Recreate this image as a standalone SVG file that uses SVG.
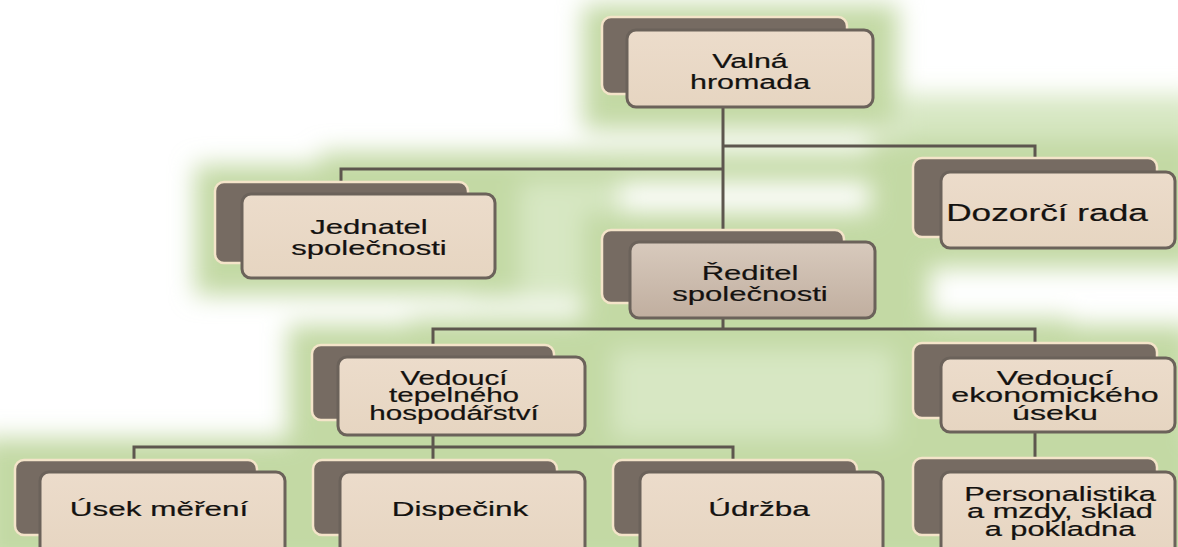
<svg xmlns="http://www.w3.org/2000/svg" width="1178" height="547" viewBox="0 0 1178 547">
<style>
.back{fill:#766b62;stroke:#f4e4c9;stroke-width:2.5}
.front{fill:url(#fg);stroke:#6b625a;stroke-width:3}
.frontd{fill:url(#fgd);stroke:#6b625a;stroke-width:3}
.t{font-family:"Liberation Sans",Arial,sans-serif;font-size:21px;fill:#141210;stroke:#141210;stroke-width:0.2;text-anchor:middle}
.s{font-size:19.5px}
.c{fill:none;stroke:#5d564e;stroke-width:3}
.g{fill:#c3d9a4}
.gl{fill:#d7e7c3}
</style>
<defs>
<linearGradient id="fg" x1="0" y1="0" x2="0" y2="1"><stop offset="0" stop-color="#ecdccb"/><stop offset="1" stop-color="#e6d5c1"/></linearGradient>
<linearGradient id="fgd" x1="0" y1="0" x2="0" y2="1"><stop offset="0" stop-color="#d8cabd"/><stop offset="1" stop-color="#c0ae9f"/></linearGradient>
<filter id="blur" x="-20%" y="-20%" width="140%" height="140%"><feGaussianBlur stdDeviation="12"/></filter>
</defs>
<rect width="1178" height="547" fill="#ffffff"/>
<g id="glow" filter="url(#blur)">
<rect class="gl" x="900" y="95" width="300" height="55"/>
<rect class="gl" x="470" y="170" width="150" height="130"/>
<rect class="gl" x="590" y="320" width="330" height="140"/>
<rect class="g" x="583" y="5" width="315" height="125"/>
<rect class="g" x="320" y="152" width="740" height="30"/>
<rect class="g" x="195" y="165" width="325" height="130"/>
<rect class="g" x="870" y="138" width="330" height="130"/>
<rect class="g" x="870" y="250" width="60" height="100"/>
<rect class="g" x="583" y="212" width="318" height="130"/>
<rect class="g" x="410" y="318" width="660" height="32"/>
<rect class="g" x="288" y="325" width="325" height="130"/>
<rect class="g" x="893" y="325" width="300" height="130"/>
<rect class="g" x="-20" y="438" width="1220" height="130"/>
</g>
<g id="connectors">
<path class="c" d="M723 107V230"/>
<path class="c" d="M723 169H341V183"/>
<path class="c" d="M723 146H1035V159"/>
<path class="c" d="M723 318V329M433 345V329H1035V344"/>
<path class="c" d="M433 435V461M134 461V447H733V461"/>
<path class="c" d="M1035 432V459"/>
</g>
<g id="n-valna">
<rect class="back" x="602" y="17" width="245" height="77" rx="9"/>
<rect class="front" x="627" y="30" width="246" height="77" rx="9"/>
<text class="t" transform="translate(750 0) scale(1.45 1)"><tspan x="0" y="68">Valná</tspan><tspan x="0" y="89">hromada</tspan></text>
</g>
<g id="n-jednatel">
<rect class="back" x="215" y="182" width="253" height="81" rx="9"/>
<rect class="front" x="242" y="194" width="253" height="84" rx="9"/>
<text class="t" transform="translate(369 0) scale(1.48 1)"><tspan x="0" y="234">Jednatel</tspan><tspan x="0" y="255">společnosti</tspan></text>
</g>
<g id="n-dozorci">
<rect class="back" x="913" y="158" width="244" height="79" rx="9"/>
<rect class="front" x="941" y="172" width="234" height="76" rx="9"/>
<text class="t" style="font-size:23.5px" transform="translate(1047 0) scale(1.5 1)"><tspan x="0" y="221">Dozorčí rada</tspan></text>
</g>
<g id="n-reditel">
<rect class="back" x="602" y="230" width="242" height="73" rx="9"/>
<rect class="frontd" x="630" y="242" width="245" height="76" rx="9"/>
<text class="t" transform="translate(750 0) scale(1.48 1)"><tspan x="0" y="280">Ředitel</tspan><tspan x="0" y="301">společnosti</tspan></text>
</g>
<g id="n-vedouci-tep">
<rect class="back" x="312" y="345" width="242" height="75" rx="9"/>
<rect class="front" x="338" y="357" width="247" height="78" rx="9"/>
<text class="t s" transform="translate(454 0) scale(1.52 1)"><tspan x="0" y="385">Vedoucí</tspan><tspan x="0" y="402.5">tepelného</tspan><tspan x="0" y="420">hospodářství</tspan></text>
</g>
<g id="n-vedouci-ekon">
<rect class="back" x="913" y="343" width="244" height="75" rx="9"/>
<rect class="front" x="941" y="358" width="234" height="74" rx="9"/>
<text class="t s" transform="translate(1055 0) scale(1.65 1)"><tspan x="0" y="385">Vedoucí</tspan><tspan x="0" y="402.5">ekonomického</tspan><tspan x="0" y="420">úseku</tspan></text>
</g>
<g id="n-usek">
<rect class="back" x="15" y="460" width="242" height="75" rx="9"/>
<rect class="front" x="40" y="472" width="245" height="85" rx="9"/>
<text class="t" transform="translate(159 0) scale(1.5 1)"><tspan x="0" y="516">Úsek měření</tspan></text>
</g>
<g id="n-dispecink">
<rect class="back" x="313" y="460" width="244" height="75" rx="9"/>
<rect class="front" x="340" y="472" width="245" height="85" rx="9"/>
<text class="t" transform="translate(460 0) scale(1.5 1)"><tspan x="0" y="516">Dispečink</tspan></text>
</g>
<g id="n-udrzba">
<rect class="back" x="613" y="460" width="244" height="75" rx="9"/>
<rect class="front" x="640" y="472" width="243" height="85" rx="9"/>
<text class="t" transform="translate(759 0) scale(1.5 1)"><tspan x="0" y="516">Údržba</tspan></text>
</g>
<g id="n-personalistika">
<rect class="back" x="913" y="458" width="244" height="77" rx="9"/>
<rect class="front" x="941" y="472" width="234" height="85" rx="9"/>
<text class="t s" transform="translate(1060 0) scale(1.58 1)"><tspan x="0" y="501">Personalistika</tspan><tspan x="0" y="518.5">a mzdy, sklad</tspan><tspan x="0" y="536">a pokladna</tspan></text>
</g>
</svg>
